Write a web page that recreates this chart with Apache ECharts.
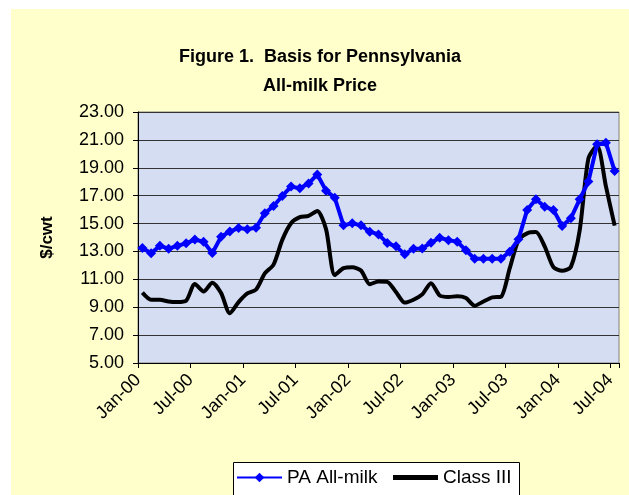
<!DOCTYPE html>
<html>
<head>
<meta charset="utf-8">
<script src="https://cdn.jsdelivr.net/npm/echarts@6/dist/echarts.min.js"></script>
<style>
  html, body { margin: 0; padding: 0; background: #ffffff; }
  #chart { position: absolute; left: 11px; top: 9px; width: 618px; height: 486px; background: #FFFFCC; }
</style>
</head>
<body>
<div id="chart"></div>
<script>
const categories = [
  'Jan-00','Feb-00','Mar-00','Apr-00','May-00','Jun-00','Jul-00','Aug-00','Sep-00','Oct-00','Nov-00','Dec-00',
  'Jan-01','Feb-01','Mar-01','Apr-01','May-01','Jun-01','Jul-01','Aug-01','Sep-01','Oct-01','Nov-01','Dec-01',
  'Jan-02','Feb-02','Mar-02','Apr-02','May-02','Jun-02','Jul-02','Aug-02','Sep-02','Oct-02','Nov-02','Dec-02',
  'Jan-03','Feb-03','Mar-03','Apr-03','May-03','Jun-03','Jul-03','Aug-03','Sep-03','Oct-03','Nov-03','Dec-03',
  'Jan-04','Feb-04','Mar-04','Apr-04','May-04','Jun-04','Jul-04'
];
const paAllMilk = [
  13.25, 12.87, 13.40, 13.20, 13.40, 13.58, 13.85, 13.70, 12.88, 14.05, 14.43, 14.68,
  14.60, 14.70, 15.74, 16.26, 16.98, 17.65, 17.53, 17.87, 18.52, 17.36, 16.85, 14.87,
  15.02, 14.87, 14.42, 14.22, 13.60, 13.37, 12.79, 13.20, 13.22, 13.63, 13.98, 13.81,
  13.70, 13.08, 12.47, 12.47, 12.47, 12.47, 12.98, 13.87, 15.98, 16.74, 16.21, 15.98,
  14.83, 15.38, 16.74, 18.01, 20.69, 20.80, 18.77
];
const classIII = [
  10.05, 9.54, 9.54, 9.41, 9.37, 9.46, 10.66, 10.13, 10.76, 10.02, 8.57, 9.37,
  9.99, 10.27, 11.42, 12.06, 13.83, 15.02, 15.46, 15.55, 15.90, 14.60, 11.31, 11.80,
  11.87, 11.63, 10.65, 10.85, 10.82, 10.09, 9.33, 9.54, 9.92, 10.72, 9.84, 9.74,
  9.78, 9.66, 9.11, 9.41, 9.71, 9.75, 11.78, 13.80, 14.30, 14.39, 13.36, 11.87,
  11.61, 11.89, 14.49, 19.66, 20.58, 17.68, 14.85
];
const yMin = 5, yMax = 23, yStep = 2;
const titleText = 'Figure 1.  Basis for Pennsylvania\nAll-milk Price';
const yName = '$/cwt';
const seriesNames = ['PA All-milk', 'Class III'];

const FONT = '"Liberation Sans", Arial, sans-serif';
const chart = echarts.init(document.getElementById('chart'), null, { renderer: 'canvas' });
const legendText = { fontFamily: FONT, fontSize: 19, color: '#000' };
chart.setOption({
  animation: false,
  backgroundColor: '#FFFFCC',
  textStyle: { fontFamily: FONT, color: '#000' },
  title: {
    text: titleText,
    left: 'center',
    top: 29,
    textStyle: { fontFamily: FONT, fontSize: 18, fontWeight: 'bold', color: '#000', lineHeight: 29 }
  },
  graphic: [{
    type: 'rect',
    left: 222, top: 453,
    shape: { width: 286, height: 40 },
    style: { fill: '#ffffff', stroke: '#000000', lineWidth: 1 },
    z: 0
  }],
  legend: [
    {
      data: [seriesNames[0]],
      left: 225, top: 459,
      padding: 0,
      itemWidth: 45, itemHeight: 12,
      textStyle: legendText,
      z: 10
    },
    {
      data: [{ name: seriesNames[1], icon: 'rect' }],
      left: 382, top: 459,
      padding: 0,
      itemWidth: 45, itemHeight: 5,
      textStyle: legendText,
      z: 10
    }
  ],
  grid: {
    left: 127, right: 10, top: 103, bottom: 132,
    show: true,
    backgroundColor: '#D5DDF3',
    borderColor: '#808080',
    borderWidth: 1
  },
  xAxis: {
    type: 'category',
    data: categories,
    boundaryGap: true,
    axisLine: { show: true, lineStyle: { color: '#000', width: 1 } },
    axisTick: { show: true, length: 5, interval: (i) => i % 6 === 0, lineStyle: { color: '#000' } },
    axisLabel: {
      interval: (i) => i % 6 === 0,
      rotate: 45,
      margin: 10,
      padding: [0, 6, 0, 0],
      fontFamily: FONT,
      fontSize: 18,
      color: '#000'
    },
    splitLine: { show: false }
  },
  yAxis: {
    type: 'value',
    min: yMin, max: yMax, interval: yStep,
    name: yName,
    nameLocation: 'middle',
    nameGap: 82,
    nameTextStyle: { fontFamily: FONT, fontSize: 17, fontWeight: 'bold', color: '#000' },
    axisLine: { show: true, lineStyle: { color: '#000', width: 1 } },
    axisTick: { show: true, length: 5, lineStyle: { color: '#000' } },
    axisLabel: {
      formatter: (v) => v.toFixed(2),
      margin: 14,
      fontFamily: FONT,
      fontSize: 18,
      color: '#000'
    },
    splitLine: { show: true, lineStyle: { color: '#333', width: 1 } }
  },
  series: [
    {
      name: seriesNames[0],
      type: 'line',
      data: paAllMilk,
      color: '#0000FF',
      lineStyle: { color: '#0000FF', width: 4 },
      symbol: 'diamond',
      symbolSize: 10,
      showSymbol: true,
      showAllSymbol: true,
      itemStyle: { color: '#0000FF' },
      z: 3
    },
    {
      name: seriesNames[1],
      type: 'line',
      data: classIII,
      color: '#000000',
      lineStyle: { color: '#000000', width: 4 },
      symbol: 'none',
      smooth: 0.25,
      itemStyle: { color: '#000000' },
      z: 2
    }
  ]
});
</script>
</body>
</html>
